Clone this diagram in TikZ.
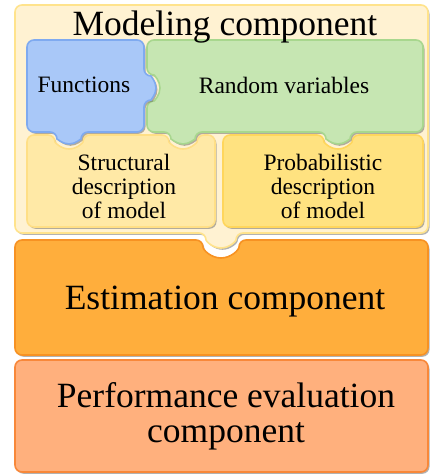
\documentclass[tikz,border=0pt]{standalone}
\usepackage{fontspec}
\setmainfont{Liberation Serif}
\usetikzlibrary{shadows}
\definecolor{modF}{HTML}{FFF2D2}
\definecolor{modB}{HTML}{FFE38C}
\definecolor{bluF}{HTML}{A9C8F8}
\definecolor{bluB}{HTML}{7FAAF0}
\definecolor{grnF}{HTML}{C6E6B2}
\definecolor{grnB}{HTML}{A8D78E}
\definecolor{strF}{HTML}{FFE9A6}
\definecolor{strB}{HTML}{FFDF86}
\definecolor{proF}{HTML}{FFE280}
\definecolor{proB}{HTML}{FFD65C}
\definecolor{estF}{HTML}{FFAE3C}
\definecolor{estB}{HTML}{F79223}
\definecolor{perF}{HTML}{FFB07D}
\definecolor{perB}{HTML}{F8883A}
\begin{document}
\begin{tikzpicture}[x=1pt,y=1pt,
  piece/.style={line width=1.6pt, rounded corners=7pt,
    drop shadow={shadow xshift=1.5pt,shadow yshift=-1.8pt,opacity=0.5,fill=black!60}},
  big/.style={font=\fontsize{35.5}{35}\selectfont, align=center, inner sep=0pt},
  small/.style={font=\fontsize{23.5}{24}\selectfont, align=center, inner sep=0pt}]
\useasboundingbox (0,0) rectangle (430,475);
% performance
\path[piece, draw=perB, fill=perF] (15,60) -- (15,115) -- (428,115) -- (428,3) -- (15,3) -- cycle;
% estimation
\path[piece, draw=estB, fill=estF] (15,180) -- (15,235) -- (203,235)
  arc[start angle=180,end angle=360,radius=18] -- (428,235) -- (428,120) -- (15,120) -- cycle;
% modeling outer
\path[piece, draw=modB, fill=modF] (200,470) -- (428,470) -- (428,242) -- (236,242)
  arc[start angle=0,end angle=-180,radius=15] -- (15,242) -- (15,470) -- cycle;
% structural
\path[piece, draw=strB, fill=strF] (27,300) -- (27,340) -- (55,340)
  arc[start angle=180,end angle=360,radius=14] -- (169,340)
  arc[start angle=180,end angle=360,radius=14] -- (215,340) -- (215,248) -- (27,248) -- cycle;
% probabilistic
\path[piece, draw=proB, fill=proF] (223,300) -- (223,340) -- (324,340)
  arc[start angle=180,end angle=360,radius=14] -- (423,340) -- (423,248) -- (223,248) -- cycle;
% green
\path[piece, draw=grnB, fill=grnF] (300,435) -- (423,435) -- (423,343) -- (350,343)
  arc[start angle=0,end angle=-180,radius=12] -- (195,343)
  arc[start angle=0,end angle=-180,radius=12] -- (147,343) -- (147,374)
  arc[start angle=-90,end angle=90,radius=13] -- (147,435) -- cycle;
% blue
\path[piece, draw=bluB, fill=bluF] (27,400) -- (27,435) -- (144,435) -- (144,399)
  arc[start angle=90,end angle=-90,radius=12] -- (144,343) -- (81,343)
  arc[start angle=0,end angle=-180,radius=12] -- (27,343) -- cycle;
% texts
\node[big] (title) at (225,448) {Modeling component};
\node[small] (func) at (84,390) {Functions};
\node[small] (rand) at (284,390) {Random variables};
\node[small] (struc) at (124,289) {Structural\\description\\of model};
\node[small] (prob) at (323,289) {Probabilistic\\description\\of model};
\node[big] (est) at (225,173) {Estimation component};
\node[big] (perf) at (226,59) {Performance evaluation\\component};
\end{tikzpicture}
\end{document}
